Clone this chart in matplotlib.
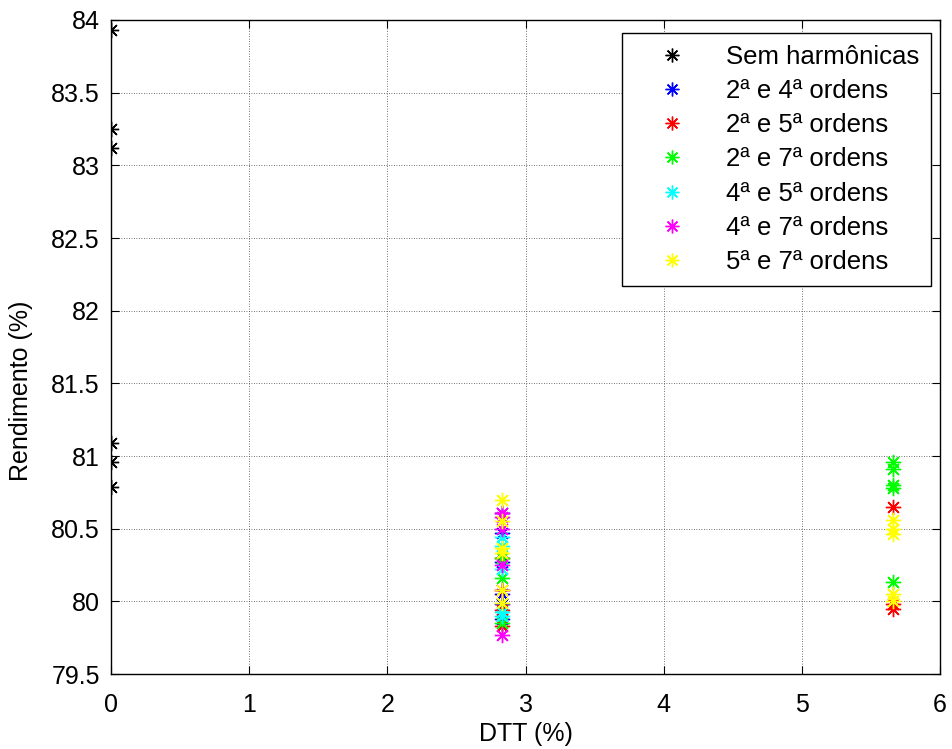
import numpy as np
import matplotlib
matplotlib.use("Agg")
import matplotlib.pyplot as plt

plt.rcParams['font.family'] = ['Liberation Sans', 'DejaVu Sans']

# DTT positions (%)
dtt_a = 2.83
dtt_b = 5.66

# Sem harmonicas (DTT = 0)
sem_y = [83.93, 83.25, 83.12, 81.09, 80.96, 80.79]

# values at dtt_a and at dtt_b for each pair of harmonics
s24_a = [80.61, 80.47, 80.27, 80.05, 79.98, 79.88]
s24_b = []
s25_a = [80.30, 80.08, 79.94, 79.83]
s25_b = [80.65, 79.98, 79.95]
s27_a = [80.30, 80.16, 79.85]
s27_b = [80.96, 80.91, 80.80, 80.78, 80.13]
s45_a = [80.44, 80.38, 80.22, 79.93, 79.90]
s45_b = []
s47_a = [80.61, 80.58, 80.50, 80.25, 80.08, 79.77]
s47_b = []
s57_a = [80.70, 80.55, 80.37, 80.33, 80.08, 79.99]
s57_b = [80.56, 80.50, 80.46, 80.05, 80.00]

labels = ["Sem harmônicas", "2ª e 4ª ordens", "2ª e 5ª ordens", "2ª e 7ª ordens",
          "4ª e 5ª ordens", "4ª e 7ª ordens", "5ª e 7ª ordens"]
colors = ["black", "blue", "red", "#00ff00", "cyan", "magenta", "yellow"]
series = [(s24_a, s24_b), (s25_a, s25_b), (s27_a, s27_b),
          (s45_a, s45_b), (s47_a, s47_b), (s57_a, s57_b)]

fig = plt.figure(figsize=(9.52, 7.49), dpi=100)
ax = fig.add_axes([0.1166, 0.1001, 0.8708, 0.8732])

mk = dict(marker=(8, 2, 0), markersize=11, linestyle="none", markeredgewidth=1.0)

ax.plot(np.zeros(len(sem_y)), sem_y, color=colors[0], label=labels[0], **mk)
for (ya, yb), c, lab in zip(series, colors[1:], labels[1:]):
    xs = [dtt_a] * len(ya) + [dtt_b] * len(yb)
    ys = list(ya) + list(yb)
    ax.plot(xs, ys, color=c, label=lab, **mk)

ax.set_xlim(0, 6)
ax.set_ylim(79.5, 84)
ax.set_xticks(np.arange(0, 7, 1))
ax.set_yticks(np.arange(79.5, 84.01, 0.5))
ax.set_yticklabels(["79.5", "80", "80.5", "81", "81.5", "82", "82.5", "83", "83.5", "84"])
ax.grid(True, color="#444444", linestyle=(0, (1, 2)), linewidth=0.6)
ax.tick_params(direction="in", top=True, right=True, labelsize=18, length=6)
ax.tick_params(axis="y", pad=8)
ax.tick_params(axis="x", pad=14)
ax.set_xlabel("DTT (%)", fontsize=18, labelpad=3)
ax.set_ylabel("Rendimento (%)", fontsize=18)
ax.yaxis.set_label_coords(-0.094, 0.433)
for s in ax.spines.values():
    s.set_linewidth(1.0)

leg = ax.legend(loc="upper right", bbox_to_anchor=(0.989, 0.980), fontsize=18.5,
                fancybox=False, framealpha=1, edgecolor="black", borderaxespad=0,
                handlelength=3.0, handletextpad=0.6, labelspacing=0.4,
                borderpad=0.45, markerscale=0.9)
leg.get_frame().set_linewidth(1.0)

fig.savefig("out.png", dpi=100)
